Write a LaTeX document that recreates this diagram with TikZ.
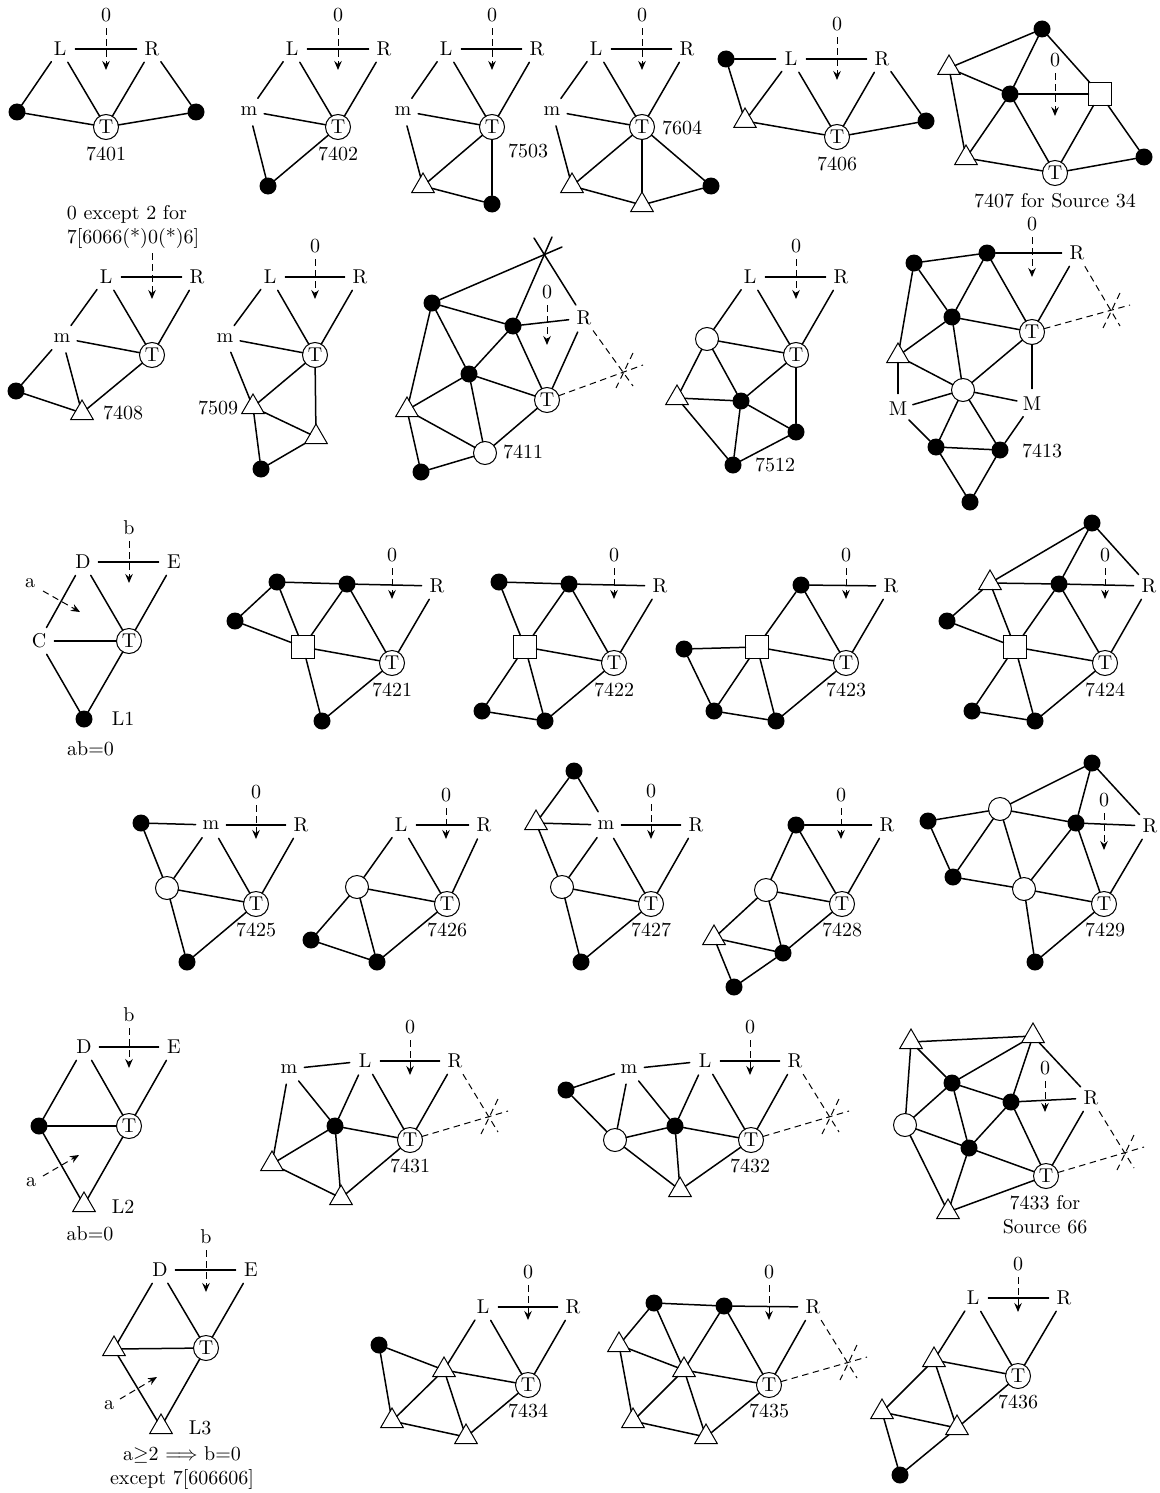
\documentclass[tikz,border=0pt]{standalone}
\usetikzlibrary{shapes.geometric,arrows.meta}
\tikzset{
  every node/.style={font=\fontsize{10}{12}\selectfont},
  ln/.style={line width=1.5pt,line cap=round},
  dsh/.style={line width=1pt,dash pattern=on 6.5pt off 4.5pt},
  arr/.style={-{Stealth[length=9pt,width=7.5pt,inset=3pt]}},
  vb/.style={circle,fill=black,inner sep=0pt,minimum size=17pt,outer sep=0pt},
  vw/.style={circle,draw,line width=1pt,fill=white,inner sep=0pt,minimum size=23pt,outer sep=0pt},
  vT/.style={scale=2,circle,draw,line width=1pt,fill=white,inner sep=0pt,minimum size=12.5pt,outer sep=0pt},
  vq/.style={rectangle,draw,line width=1pt,fill=white,inner sep=0pt,minimum size=23pt,outer sep=0pt},
  vt/.style={regular polygon,regular polygon sides=3,draw,line width=1pt,fill=white,inner sep=0pt,minimum size=26pt,outer sep=0pt},
  vl/.style={scale=2,circle,inner sep=0pt,minimum size=15pt},
  txt/.style={scale=2,inner sep=3pt},
  captxt/.style={scale=2,inner sep=0pt,align=center},
}
\newcommand\Edges[1]{\foreach \a/\b in {#1} {\draw[ln] (\a) -- (\b);}}
\newcommand\Drop[4]{\node[txt] (h) at (#2,#3) {#1}; \coordinate (he) at (#2,#4); \draw[dsh,arr] (h) -- (he);}
\newcommand\Burst[2]{%
  \coordinate (ba) at ({#1+9},{#2+14});
  \coordinate (bb) at ({#1+19},{#2-7});
  \coordinate (bd) at ({#1+9},{#2-19});
  \coordinate (be) at ({#1-8},{#2+16});
  \draw[dsh] (R) -- (ba);
  \draw[dsh] (T) -- (bb);
  \draw[dsh] (bd) -- (be);}
\begin{document}
\begin{tikzpicture}[x=1pt,y=-1pt]
\useasboundingbox (0,0) rectangle (1159,1493);
% 7401
\begin{scope}[name prefix=a-]
\node[vl] (L) at (60,49) {L}; \node[vl] (R) at (152,49) {R}; \node[vT] (T) at (106,127) {T};
\node[vb] (p) at (17,112) {}; \node[vb] (q) at (196,112) {};
\Edges{L/R,L/p,L/T,R/T,R/q,p/T,q/T}
\Drop{0}{106}{15}{70}
\node[captxt] (c) at (106,154) {7401};
\end{scope}
% 7402
\begin{scope}[name prefix=b-]
\node[vl] (L) at (292,49) {L}; \node[vl] (R) at (384,49) {R}; \node[vT] (T) at (338,127) {T};
\node[vl] (m) at (249,111) {m}; \node[vb] (p) at (268,186) {};
\Edges{L/R,L/m,L/T,R/T,m/T,m/p,T/p}
\Drop{0}{338}{15}{70}
\node[captxt] (c) at (338,154) {7402};
\end{scope}
% 7503
\begin{scope}[name prefix=c-]
\node[vl] (L) at (446,49) {L}; \node[vl] (R) at (537,49) {R}; \node[vT] (T) at (492,127) {T};
\node[vl] (m) at (403,111) {m}; \node[vt] (t) at (423,186) {}; \node[vb] (p) at (492,204) {};
\Edges{L/R,L/m,L/T,R/T,m/T,m/t,T/t,T/p,t/p}
\Drop{0}{492}{15}{70}
\node[captxt] (c) at (528,151) {7503};
\end{scope}
% 7604
\begin{scope}[name prefix=d-]
\node[vl] (L) at (596,49) {L}; \node[vl] (R) at (687,49) {R}; \node[vT] (T) at (642,127) {T};
\node[vl] (m) at (552,111) {m}; \node[vt] (t) at (572,186) {}; \node[vt] (u) at (642,205) {}; \node[vb] (p) at (711,186) {};
\Edges{L/R,L/m,L/T,R/T,m/T,m/t,T/t,T/u,T/p,t/u,u/p}
\Drop{0}{642}{15}{70}
\node[captxt] (c) at (682,128) {7604};
\end{scope}
% 7406
\begin{scope}[name prefix=e-]
\node[vl] (L) at (791,59) {L}; \node[vl] (R) at (882,59) {R}; \node[vT] (T) at (837,137) {T};
\node[vb] (p) at (726,59) {}; \node[vb] (q) at (926,121) {}; \node[vt] (t) at (745,121) {};
\Edges{L/R,L/p,L/t,L/T,R/T,R/q,q/T,T/t,p/t}
\Drop{0}{837}{24}{80}
\node[captxt] (c) at (837,164) {7406};
\end{scope}
% 7407
\begin{scope}[name prefix=f-]
\node[vb] (a) at (1042,29) {}; \node[vt] (t) at (949,68) {}; \node[vb] (b) at (1010,94) {};
\node[vq] (s) at (1100,94) {}; \node[vt] (u) at (966,158) {}; \node[vT] (T) at (1055,173) {T}; \node[vb] (p) at (1144,157) {};
\Edges{a/t,a/b,a/s,t/b,t/u,b/s,b/u,b/T,s/T,s/p,u/T,T/p}
\Drop{0}{1055}{60}{116}
\node[captxt] (c) at (1055,201) {7407 for Source 34};
\end{scope}
% 7408
\begin{scope}[name prefix=g-]
\node[vl] (L) at (106,277) {L}; \node[vl] (R) at (197,277) {R}; \node[vT] (T) at (152,355) {T};
\node[vl] (m) at (62,338) {m}; \node[vb] (p) at (16,391) {}; \node[vt] (t) at (82,413) {};
\Edges{L/R,L/m,L/T,R/T,m/T,m/p,m/t,T/t,p/t}
\node[captxt,align=left] (h) at (133,227) {0 except 2 for\\7[6066(*)0(*)6]};
\coordinate (hs) at (152,253); \coordinate (he) at (152,299);
\draw[dsh,arr] (hs) -- (he);
\node[captxt] (c) at (123,413) {7408};
\end{scope}
% 7509
\begin{scope}[name prefix=h-]
\node[vl] (L) at (270,277) {L}; \node[vl] (R) at (360,277) {R}; \node[vT] (T) at (315,355) {T};
\node[vl] (m) at (225,338) {m}; \node[vt] (t) at (253,407) {}; \node[vt] (u) at (316,437) {}; \node[vb] (p) at (261,469) {};
\Edges{L/R,L/m,L/T,R/T,m/T,m/t,T/t,T/u,t/u,t/p,u/p}
\Drop{0}{315}{246}{299}
\node[captxt] (c) at (218,408) {7509};
\end{scope}
% 7411
\begin{scope}[name prefix=i-]
\node[vb] (a) at (432,303) {}; \node[vb] (b) at (513,326) {}; \node[vl] (R) at (584,318) {R};
\node[vT] (T) at (547,400) {T}; \node[vb] (d) at (469,374) {}; \node[vt] (t) at (407,410) {};
\node[vw] (w) at (485,453) {}; \node[vb] (p) at (421,472) {};
\coordinate (x1) at (562,247); \coordinate (x2) at (552,237); \coordinate (x3) at (534,238);
\Edges{a/x1,b/x2,R/x3,a/b,a/d,a/t,b/d,b/R,b/T,R/T,d/T,d/t,d/w,t/w,t/p,w/p,w/T}
\Drop{0}{547}{292}{345}
\Burst{624}{372}
\node[captxt] (c) at (523,452) {7411};
\end{scope}
% 7512
\begin{scope}[name prefix=j-]
\node[vl] (L) at (750,277) {L}; \node[vl] (R) at (841,277) {R}; \node[vT] (T) at (796,355) {T};
\node[vw] (w) at (707,339) {}; \node[vt] (t) at (677,398) {}; \node[vb] (a) at (741,401) {};
\node[vb] (b) at (796,432) {}; \node[vb] (d) at (733,465) {};
\Edges{L/R,L/w,L/T,R/T,w/T,w/t,w/a,T/a,T/b,t/a,t/d,a/b,a/d,b/d}
\Drop{0}{796}{246}{299}
\node[captxt] (c) at (775,465) {7512};
\end{scope}
% 7413
\begin{scope}[name prefix=k-]
\node[vb] (a) at (987,253) {}; \node[vb] (b) at (914,263) {}; \node[vl] (R) at (1077,253) {R};
\node[vT] (T) at (1032,332) {T}; \node[vb] (d) at (952,317) {}; \node[vt] (t) at (898,356) {};
\node[vw] (w) at (963,390) {}; \node[vl] (M) at (898,409) {M}; \node[vl] (N) at (1032,404) {M};
\node[vb] (p) at (936,447) {}; \node[vb] (q) at (1000,450) {}; \node[vb] (r) at (970,502) {};
\Edges{a/b,a/R,a/d,a/T,b/d,b/t,R/T,d/T,d/t,d/w,t/w,t/M,w/T,T/N,w/M,w/N,w/p,w/q,M/p,N/q,p/q,p/r,q/r}
\Drop{0}{1032}{224}{277}
\Burst{1111}{312}
\node[captxt] (c) at (1042,451) {7413};
\end{scope}
% L1
\begin{scope}[name prefix=l-]
\node[vl] (D) at (83,562) {D}; \node[vl] (E) at (174,562) {E}; \node[vl] (C) at (39,641) {C};
\node[vT] (T) at (129,641) {T}; \node[vb] (p) at (84,719) {};
\Edges{D/E,D/C,D/T,E/T,C/T,C/p,T/p}
\Drop{b}{129}{528}{583}
\node[captxt] (a) at (30,583) {a};
\coordinate (as) at (43,591); \coordinate (ae) at (80,612);
\draw[dsh,arr] (as) -- (ae);
\node[captxt] (c) at (123,719) {L1};
\node[captxt] (c2) at (90.5,749) {ab=0};
\end{scope}
% 7421
\begin{scope}[name prefix=m-]
\node[vb] (a) at (277,582) {}; \node[vb] (b) at (347,584) {}; \node[vl] (R) at (437,586) {R};
\node[vb] (p) at (235,621) {}; \node[vq] (s) at (303,647) {}; \node[vT] (T) at (392,663) {T}; \node[vb] (q) at (322,721) {};
\Edges{a/b,b/R,a/p,a/s,b/s,b/T,R/T,p/s,s/T,s/q,T/q}
\Drop{0}{392}{555}{599}
\node[captxt] (c) at (392,690) {7421};
\end{scope}
% 7422
\begin{scope}[name prefix=n-]
\node[vb] (a) at (499,582) {}; \node[vb] (b) at (569,584) {}; \node[vl] (R) at (660,586) {R};
\node[vq] (s) at (525,647) {}; \node[vT] (T) at (614,663) {T}; \node[vb] (p) at (482,711) {}; \node[vb] (q) at (545,721) {};
\Edges{a/b,b/R,a/s,b/s,b/T,R/T,s/T,s/p,s/q,T/q,p/q}
\Drop{0}{614}{555}{599}
\node[captxt] (c) at (614,690) {7422};
\end{scope}
% 7423
\begin{scope}[name prefix=o-]
\node[vb] (a) at (801,585) {}; \node[vl] (R) at (891,586) {R}; \node[vT] (T) at (846,663) {T};
\node[vq] (s) at (757,647) {}; \node[vb] (r) at (684,649) {}; \node[vb] (p) at (714,711) {}; \node[vb] (q) at (776,721) {};
\Edges{a/R,a/s,a/T,R/T,s/T,s/r,s/p,s/q,T/q,r/p,p/q}
\Drop{0}{846}{555}{599}
\node[captxt] (c) at (846,690) {7423};
\end{scope}
% 7424
\begin{scope}[name prefix=q-]
\node[vb] (a) at (1092,523) {}; \node[vt] (t) at (990,583) {}; \node[vb] (b) at (1059,584) {};
\node[vl] (R) at (1149,586) {R}; \node[vT] (T) at (1105,663) {T}; \node[vb] (r) at (947,621) {};
\node[vq] (s) at (1015,647) {}; \node[vb] (p) at (972,711) {}; \node[vb] (q) at (1035,721) {};
\Edges{a/t,a/b,a/R,t/b,b/R,t/r,t/s,b/s,b/T,R/T,r/s,s/T,s/p,s/q,T/q,p/q}
\Drop{0}{1105}{555}{599}
\node[captxt] (c) at (1105,690) {7424};
\end{scope}
% 7425
\begin{scope}[name prefix=r-]
\node[vb] (a) at (141,823) {}; \node[vl] (m) at (211,825) {m}; \node[vl] (R) at (301,825) {R};
\node[vw] (w) at (167,888) {}; \node[vT] (T) at (256,904) {T}; \node[vb] (q) at (187,962) {};
\Edges{a/m,m/R,a/w,m/w,m/T,R/T,w/T,w/q,T/q}
\Drop{0}{256}{792}{839}
\node[captxt] (c) at (256,930) {7425};
\end{scope}
% 7426
\begin{scope}[name prefix=s-]
\node[vl] (L) at (401,825) {L}; \node[vl] (R) at (484,825) {R}; \node[vw] (w) at (357,887) {};
\node[vT] (T) at (447,904) {T}; \node[vb] (p) at (311,940) {}; \node[vb] (q) at (377,962) {};
\Edges{L/R,L/w,L/T,R/T,w/T,w/p,w/q,T/q,p/q}
\Drop{0}{446}{795}{839}
\node[captxt] (c) at (447,930) {7426};
\end{scope}
% 7427
\begin{scope}[name prefix=t-]
\node[vb] (a) at (574,771) {}; \node[vt] (t) at (536,823) {}; \node[vl] (m) at (606,825) {m};
\node[vl] (R) at (696,825) {R}; \node[vw] (w) at (562,887) {}; \node[vT] (T) at (651,904) {T}; \node[vb] (q) at (581,962) {};
\Edges{a/t,a/m,t/m,t/w,m/R,m/w,m/T,R/T,w/T,w/q,T/q}
\Drop{0}{651}{791}{839}
\node[captxt] (c) at (651,930) {7427};
\end{scope}
% 7428
\begin{scope}[name prefix=u-]
\node[vb] (a) at (796,825) {}; \node[vl] (R) at (887,825) {R}; \node[vw] (w) at (766,890) {};
\node[vT] (T) at (842,904) {T}; \node[vt] (t) at (714,938) {}; \node[vb] (b) at (783,953) {}; \node[vb] (q) at (734,987) {};
\Edges{a/R,a/w,a/T,R/T,w/T,w/t,w/b,T/b,t/b,t/q,b/q}
\Drop{0}{841}{795}{839}
\node[captxt] (c) at (842,930) {7428};
\end{scope}
% 7429
\begin{scope}[name prefix=v-]
\node[vb] (a) at (1092,763) {}; \node[vw] (w) at (1000,809) {}; \node[vb] (b) at (1076,823) {};
\node[vl] (R) at (1150,826) {R}; \node[vb] (r) at (928,821) {}; \node[vb] (d) at (953,877) {};
\node[vw] (x) at (1024,889) {}; \node[vT] (T) at (1104,904) {T}; \node[vb] (q) at (1035,962) {};
\Edges{a/w,a/b,a/R,w/b,w/r,w/d,w/x,b/R,b/x,b/T,R/T,r/d,d/x,x/T,x/q,T/q}
\Drop{0}{1104}{800}{850}
\node[captxt] (c) at (1105,930) {7429};
\end{scope}
% L2
\begin{scope}[name prefix=w-]
\node[vl] (D) at (84,1047) {D}; \node[vl] (E) at (174,1047) {E}; \node[vb] (p) at (39,1126) {};
\node[vT] (T) at (129,1126) {T}; \node[vt] (t) at (84,1205) {};
\Edges{D/E,D/p,D/T,E/T,p/T,p/t,T/t}
\Drop{b}{129}{1015}{1068}
\node[captxt] (a) at (31,1182) {a};
\coordinate (as) at (43,1176); \coordinate (ae) at (79,1155);
\draw[dsh,arr] (as) -- (ae);
\node[captxt] (c) at (123,1207) {L2};
\node[captxt] (c2) at (90,1234) {ab=0};
\end{scope}
% 7431
\begin{scope}[name prefix=x-]
\node[vl] (L) at (365,1061) {L}; \node[vl] (R) at (455,1061) {R}; \node[vl] (m) at (289,1069) {m};
\node[vb] (b) at (335,1126) {}; \node[vT] (T) at (410,1140) {T}; \node[vt] (t) at (272,1164) {}; \node[vt] (u) at (341,1198) {};
\Edges{m/L,L/R,m/t,m/b,L/b,L/T,R/T,b/T,b/t,b/u,t/u,T/u}
\Drop{0}{410}{1027}{1075}
\Burst{489}{1118}
\node[captxt] (c) at (410,1166) {7431};
\end{scope}
% 7432
\begin{scope}[name prefix=y-]
\node[vl] (L) at (705,1061) {L}; \node[vl] (R) at (795,1061) {R}; \node[vl] (m) at (629,1069) {m};
\node[vb] (p) at (566,1090) {}; \node[vw] (w) at (615,1140) {}; \node[vb] (b) at (675,1126) {};
\node[vT] (T) at (751,1140) {T}; \node[vt] (t) at (680,1190) {};
\Edges{p/m,m/L,L/R,p/w,m/w,m/b,L/b,L/T,R/T,w/b,b/T,w/t,b/t,T/t}
\Drop{0}{750}{1027}{1075}
\Burst{830}{1118}
\node[captxt] (c) at (750,1166) {7432};
\end{scope}
% 7433
\begin{scope}[name prefix=z-]
\node[vt] (t) at (911,1042) {}; \node[vt] (u) at (1033,1036) {}; \node[vb] (a) at (952,1083) {};
\node[vb] (b) at (1011,1102) {}; \node[vb] (d) at (969,1148) {}; \node[vl] (R) at (1091,1098) {R};
\node[vw] (w) at (905,1125) {}; \node[vT] (T) at (1046,1176) {T}; \node[vt] (v) at (948,1212) {};
\Edges{t/u,t/a,t/w,u/a,u/b,u/R,a/b,a/w,a/d,b/R,b/d,b/T,R/T,w/d,w/v,d/T,d/v,v/T}
\Drop{0}{1045}{1068}{1112}
\Burst{1125}{1154}
\node[captxt] (c) at (1045,1215) {7433 for\\Source 66};
\end{scope}
% L3
\begin{scope}[name prefix=aa-]
\node[vl] (D) at (160,1270) {D}; \node[vl] (E) at (251,1270) {E}; \node[vt] (t) at (114,1349) {};
\node[vT] (T) at (206,1348) {T}; \node[vt] (u) at (161,1427) {};
\Edges{D/E,D/t,D/T,E/T,t/T,t/u,T/u}
\Drop{b}{206}{1237}{1292}
\node[captxt] (a) at (109,1405) {a};
\coordinate (as) at (120,1399); \coordinate (ae) at (157,1377);
\draw[dsh,arr] (as) -- (ae);
\node[captxt] (c) at (200,1428) {L3};
\node[captxt] (c2) at (182,1468) {a$\geq$2 $\Longrightarrow$ b=0\\except 7[606606]};
\end{scope}
% 7434
\begin{scope}[name prefix=ab-]
\node[vl] (L) at (483,1307) {L}; \node[vl] (R) at (573,1307) {R}; \node[vb] (p) at (379,1345) {};
\node[vt] (a) at (444,1370) {}; \node[vT] (T) at (528,1385) {T}; \node[vt] (b) at (392,1421) {}; \node[vt] (d) at (466,1437) {};
\Edges{L/R,L/a,L/T,R/T,p/a,p/b,a/T,a/b,a/d,b/d,T/d}
\Drop{0}{528}{1272}{1320}
\node[captxt] (c) at (528,1411) {7434};
\end{scope}
% 7435
\begin{scope}[name prefix=ac-]
\node[vb] (p) at (654,1303) {}; \node[vb] (q) at (724,1306) {}; \node[vl] (R) at (813,1307) {R};
\node[vt] (e) at (619,1345) {}; \node[vt] (a) at (684,1370) {}; \node[vT] (T) at (769,1385) {T};
\node[vt] (b) at (633,1421) {}; \node[vt] (d) at (706,1437) {};
\Edges{p/q,q/R,p/e,p/a,q/a,q/T,R/T,e/a,e/b,a/T,a/b,a/d,b/d,T/d}
\Drop{0}{769}{1272}{1320}
\Burst{848}{1364}
\node[captxt] (c) at (769,1411) {7435};
\end{scope}
% 7436
\begin{scope}[name prefix=ad-]
\node[vl] (L) at (973,1298) {L}; \node[vl] (R) at (1064,1298) {R}; \node[vT] (T) at (1018,1376) {T};
\node[vt] (a) at (934,1360) {}; \node[vt] (b) at (882,1412) {}; \node[vt] (d) at (957,1428) {}; \node[vb] (p) at (900,1475) {};
\Edges{L/R,L/a,L/T,R/T,a/T,a/b,a/d,b/d,b/p,d/p,T/d}
\Drop{0}{1018}{1264}{1312}
\node[captxt] (c) at (1018,1402) {7436};
\end{scope}
\end{tikzpicture}
\end{document}
